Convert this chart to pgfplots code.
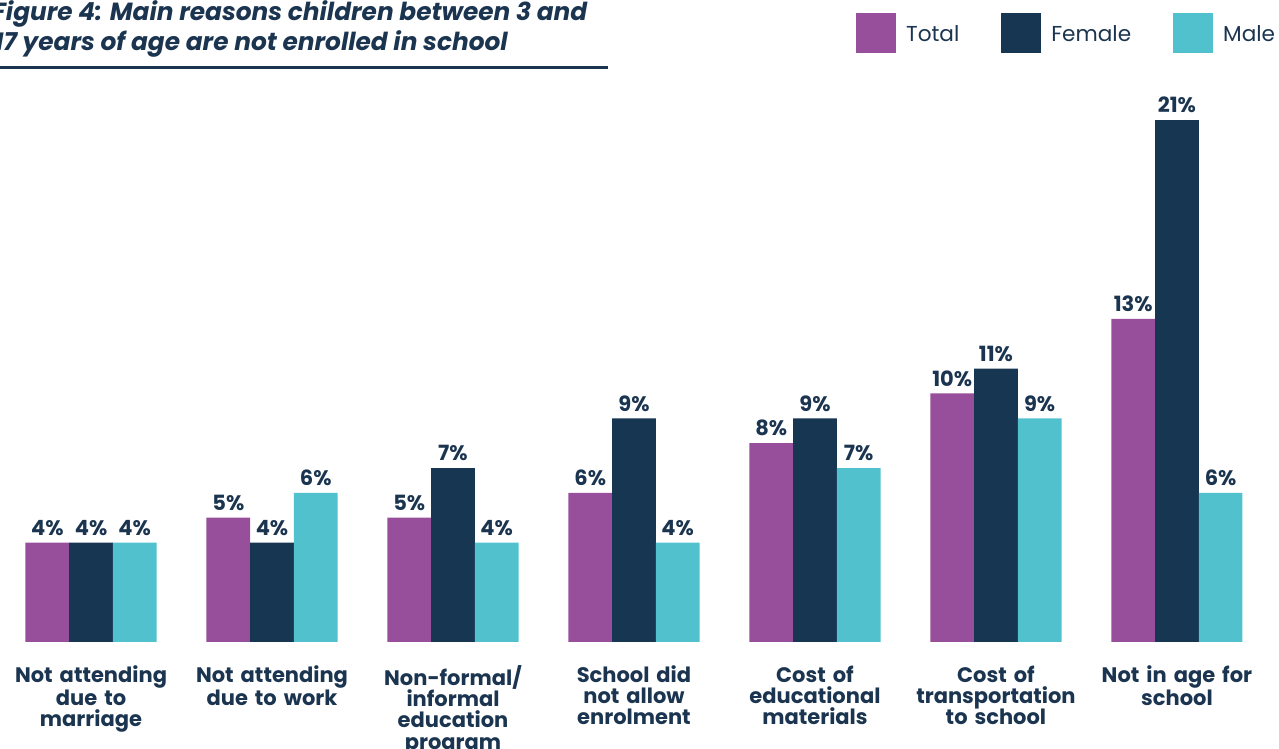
\documentclass[border=0pt]{standalone}
\usepackage{fontspec}
\setmainfont{Poppins}
\usepackage{pgfplots}
\pgfplotsset{compat=1.18}
\definecolor{cTotal}{HTML}{984F9B}
\definecolor{cFemale}{HTML}{163651}
\definecolor{cMale}{HTML}{51C1CE}
\definecolor{navy}{HTML}{1B3550}

\begin{document}
\lineskiplimit=-20pt
\begin{tikzpicture}
\begin{axis}[
    scale only axis, width=639.5pt, height=321pt,
    xmin=-0.503, xmax=6.564, ymin=0, ymax=25.83,
    axis line style={draw=none}, tick style={draw=none},
    ytick=\empty,
    /pgf/number format/assume math mode=true,
    xtick={0,...,6},
    xticklabels={{Not attending\\due to\\marriage},{Not attending\\due to work},{Non-formal/\\informal\\education\\program},{School did\\not allow\\enrolment},{Cost of\\educational\\materials},{Cost of\\transportation\\to school},{Not in age for\\school}},
    xticklabel style={font=\bfseries\fontsize{10.5}{10.6}\selectfont, text width=100pt, align=center, text=navy, yshift=-4pt},
    ybar=0pt, bar width=21.85pt,
    nodes near coords={\pgfmathprintnumber{\pgfplotspointmeta}\%},
    nodes near coords style={font=\bfseries\fontsize{10.5}{12}\selectfont, text=navy},
    legend style={at={(rel axis cs:0.669,0.981)}, anchor=north west, draw=none, fill=none, inner sep=0pt,
        font=\fontsize{10.8}{12}\selectfont, text=navy, legend columns=3,
        /tikz/every odd column/.append style={column sep=3pt},
        /tikz/every even column/.append style={column sep=19pt}},
    legend image code/.code={\fill[#1] (0pt,-9pt) rectangle (20pt,11pt);},
]
\addplot[fill=cTotal, draw=none] coordinates {(0,4) (1,5) (2,5) (3,6) (4,8) (5,10) (6,13)};
\addlegendentry{Total}
\addplot[fill=cFemale, draw=none] coordinates {(0,4) (1,4) (2,7) (3,9) (4,9) (5,11) (6,21)};
\addlegendentry{Female}
\addplot[fill=cMale, draw=none] coordinates {(0,4) (1,6) (2,4) (3,4) (4,7) (5,9) (6,6)};
\addlegendentry{Male}
\end{axis}
\node[anchor=base west, inner sep=0pt, text=navy, font=\bfseries\itshape\fontsize{12.4}{15}\selectfont] at (-4pt,310.5pt) {Figure 4: Main reasons children between 3 and};
\node[anchor=base west, inner sep=0pt, text=navy, font=\bfseries\itshape\fontsize{12.4}{15}\selectfont] at (-3pt,295.5pt) {17 years of age are not enrolled in school};
\draw[navy, line width=1.5pt] (-5pt,287pt) -- (304pt,287pt);
\pgfresetboundingbox
\path[use as bounding box] (0pt,-53.5pt) rectangle (639.5pt,321pt);
\end{tikzpicture}
\end{document}
